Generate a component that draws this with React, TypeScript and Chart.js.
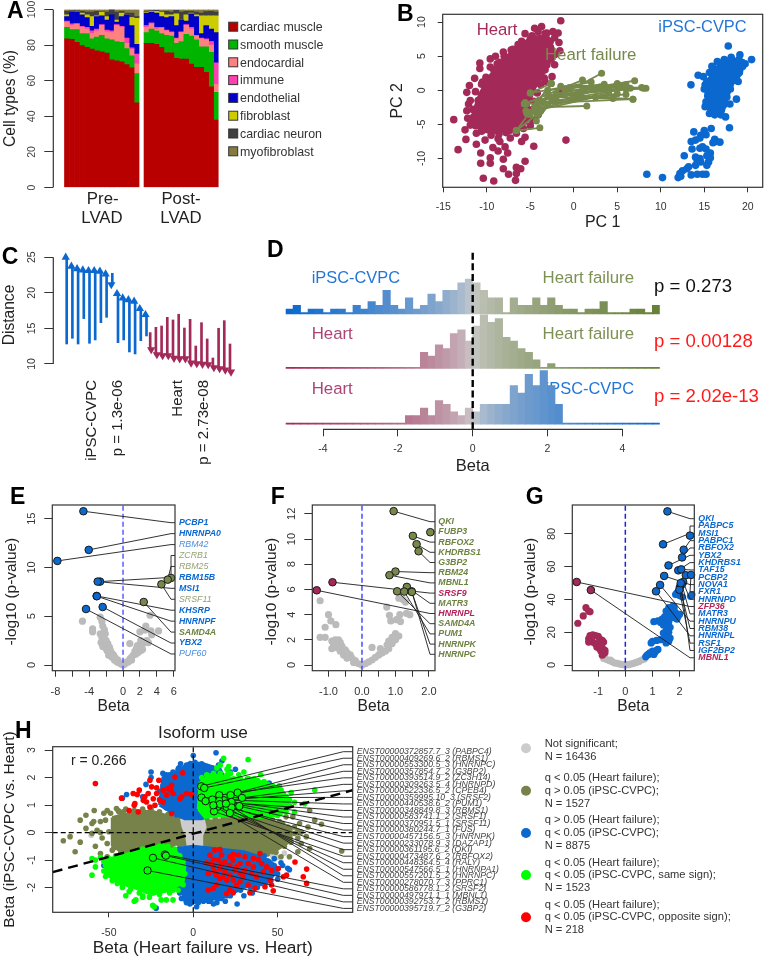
import { useEffect, useRef } from 'react';
import Chart from 'chart.js/auto';

type Pt = [number, number];

// ---------- colours
const HEART = '#a32a58';
const BLUE = '#0b68cf';
const OLIVE = '#76894a';
const HEART_T = '#ab4674';
const BLUE_T = '#2376d8';
const OLIVE_T = '#7d9154';
const FONT = '"Liberation Sans"';

// ---------- Panel A (upper edge of each stacked layer, %)
const cellTypes = ['cardiac muscle', 'smooth muscle', 'endocardial', 'immune', 'endothelial', 'fibroblast', 'cardiac neuron', 'myofibroblast'];
const cellColors = ['#b90000', '#00b400', '#ff8080', '#ff40b0', '#0000c8', '#cccc00', '#404040', '#857a40'];
const preTops = [
  [83.5, 83.3, 81.5, 79.7, 78.7, 77.8, 76.8, 76.2, 75.5, 71.7, 71.2, 70.6, 69, 67.2, 47.5],
  [90, 88.7, 88.7, 86.5, 86.5, 83.5, 84.5, 85.5, 83.5, 83, 82, 81.5, 78, 74, 64],
  [93, 91, 92, 90, 89, 86.5, 88, 91, 87.5, 87, 91, 90, 81, 77.5, 69.5],
  [93.5, 92, 92, 90.5, 90, 88, 89, 91.5, 88.5, 88, 91.5, 90.5, 84, 78.5, 75],
  [96, 98.5, 98.5, 97, 95.5, 90.5, 96, 96.5, 94, 97, 93, 96, 97, 91, 80.5],
  [97, 98.5, 98.7, 98, 97, 96, 96.5, 98.5, 96, 96, 94, 98, 97, 95.5, 95],
  [99, 99.3, 99.3, 99, 98.5, 98.5, 99, 99, 98.5, 99, 98.5, 99, 98, 98, 96],
  [100, 100, 100, 100, 100, 100, 100, 100, 100, 100, 100, 100, 100, 100, 100],
];
const postTops = [
  [81, 81, 80.4, 78.7, 75.7, 75.7, 72.5, 72.1, 72.1, 69.3, 67.5, 67.5, 64.7, 56.6, 37.9],
  [87, 89, 88, 86.5, 85.5, 85, 81, 82, 86, 85, 83, 79, 79, 76, 53.5],
  [90, 92, 89, 89.5, 88, 87, 83.5, 87, 91, 89, 85, 83.5, 83, 80, 58],
  [91, 92.5, 90, 90, 88.5, 87.5, 84, 87.5, 91.5, 90, 85.5, 84, 83.5, 82, 70],
  [98, 98.5, 98, 96, 95.5, 96, 91, 94, 93.5, 97.5, 96, 86.5, 91, 89, 87],
  [98.5, 99, 99, 98.5, 97, 97, 97.5, 94, 97, 98, 97, 96.5, 96.5, 96.5, 96.5],
  [99, 99.3, 99.5, 99, 99, 98.5, 99.5, 98.5, 99, 99, 98.5, 98, 98.8, 99, 98.5],
  [100, 100, 100, 100, 100, 100, 100, 100, 100, 100, 100, 100, 100, 100, 100],
];

// ---------- Panel B
const bHeartCore: Pt[] = [[-11.5, -3], [-10.8, -0.5], [-9.6, 2.2], [-8.3, 4.3], [-6.3, 6.6], [-4.7, 7.8], [-3, 8], [-2.3, 6], [-2.8, 4], [-3.7, 2], [-4.5, 0.3], [-5.2, -2], [-5.5, -4.8], [-7.2, -5.6], [-9, -6.2], [-10.6, -6], [-11.5, -4.8], [-11.5, -3]];
const bHeart: Pt[] = [[-1.5, 10.2], [-4.5, 9.1], [-3.7, 9.35], [-4.1, 8.6], [-3.1, 8.4], [-2.4, 8.6], [-1.8, 8.4], [-5.6, 8.3], [-1.6, 5.8], [-2.2, 3.75], [-3.1, 3.7], [-2.5, 2], [-5.6, 6.3], [-7, 6], [-8.1, 5.6], [-9, 5], [-10.8, 4], [-10.8, 3.2], [-9.6, 3.4], [-11.4, 1.75], [-12, 0.7], [-12.3, -0.3], [-12.3, -3], [-12.2, -4.1], [-13.8, -4.3], [-12.5, -5.8], [-11.9, -5.1], [-12.4, -7.2], [-13.3, -8.7], [-11.2, -6.3], [-11.2, -7.9], [-10.2, -7.3], [-10.7, -9.2], [-10.7, -10.7], [-9.6, -9.9], [-9.6, -10.7], [-9.3, -8.4], [-8.7, -7.1], [-8.5, -7.5], [-7.9, -8.3], [-8.7, -8.9], [-7.6, -9.2], [-8.1, -10.1], [-8.1, -11.5], [-7.5, -12.3], [-6.6, -11.3], [-6.1, -11.5], [-5.6, -10.4], [-6.6, -12.2], [-6.7, -13.2], [-10.4, -12.9], [-9.2, -13.3], [-4.6, -8.2], [-5.6, -6.9], [-6, -7.5], [-7.3, -7], [-6.6, -6.3], [-0.9, -7.3], [-6.2, -4.6], [-4.7, -4.4], [-4.1, -3.6], [-5.4, -2.8], [-1.4, -0.4], [-3.3, 1.3], [-4.3, 2.5], [-3.9, 2.5], [-4.3, 4.8], [-11.2, -3.2], [-11.6, -2.8], [-11.5, -3.9], [-9.6, 4.6], [-8.5, 4.1], [-2.7, 6.3], [-2.2, 7.7], [-2.7, 7.2], [-5, 7.5], [-6.4, 6.7], [-7.7, 4.8], [-3.1, 4.8], [-3.1, 4.4], [-10.5, 1.2], [-11, -1.5], [-9.8, -5.8], [-7.8, -6.2], [-5.8, -5.6], [-11.9, -1.5], [-11.3, -0.2], [-10.6, 0.9], [-10.1, 1.9], [-9.2, 3], [-8.8, 3.9], [-8, 5], [-7.2, 5.9], [-6, 7.2], [-4.8, 8], [-3.3, 8.3], [-1.7, 7], [-2.2, 5.2], [-2.6, 4.6], [-3.3, 3], [-3.4, 1.8], [-3.8, 0.8], [-4.2, -0.4], [-4.6, -1.6], [-4.7, -2.8], [-5.2, -4], [-5, -5.2], [-6.4, -5.4], [-7.4, -5.9], [-8.6, -6.4], [-9.5, -6.6], [-10.6, -6], [-11.3, -5.2], [-11.8, -4.4], [-12.1, -2]];
const bBlueCore: Pt[] = [[15.84, 2.23], [16.8, 3.89], [18.33, 4.6], [19.48, 4.37], [19.29, 2.47], [18.33, 1.04], [17.57, -1.33], [17.18, -3.2], [15.84, -3.23], [15.27, -1.33], [15.08, 1.04], [15.84, 2.23]];
const bBlue: Pt[] = [[17.76, 6.5], [20.44, 4.5], [19.1, 5.2], [18.1, 4.84], [15.88, 3.5], [14.3, 2.2], [14.9, 2], [13.47, 0.8], [15.1, 0.8], [18.7, -1.3], [17.95, -2], [15.1, -2.4], [17.45, -3.9], [17.9, -5.5], [16.5, 4.2], [17.3, 4.5], [19.7, 3.9], [18.9, 1.3], [18.6, 1.8], [16.9, -3.6], [15.6, -3.4], [16.2, -3.6], [15.3, 1.3], [15.6, 2.6], [16.1, 3.2], [17, 4], [18, 4.4], [19, 4.5], [19.4, 3.5], [19, 2.6], [18.4, 1.5], [18, 0.2], [17.6, -1], [17.2, -2.2], [15.4, -0.8], [15.2, -1.7], [15.7, -2.6], [15, 0.2], [13.8, -6.1], [15, -5.9], [15.8, -5.6], [14.6, -6.6], [14, -7.3], [13.5, -7.5], [14.5, -7], [15.2, -6.5], [16.2, -7.2], [16.4, -7.5], [16.8, -7.6], [16, -7.7], [13.6, -8.6], [14.8, -8.3], [15.2, -8.6], [14.5, -8.5], [15.7, -9.2], [15.3, -9.6], [15.7, -9.9], [12.7, -9.6], [14, -9.8], [14.5, -10], [14.6, -10.5], [14.2, -10.3], [15.5, -10.5], [15.3, -11], [14, -11], [13.2, -11.2], [13, -11.5], [12.5, -11.8], [12.2, -12.2], [12, -12.8], [12.3, -12.6], [13.5, -12.4], [14.2, -12.3], [14.8, -12.3], [15.2, -12.3], [8.4, -12.3], [10.2, -12.8]];
const bFailureLinks: [number, number, number, number][] = [[-6.6, -5.9, -2.6, 1], [-6.6, -5.9, -3.9, -5.5], [-6.6, -5.9, -4.2, -3.5], [-5.2, -3.5, -2.6, 1], [-5.4, -3.4, 3.2, 2.5], [-5.7, -2, 1, 1.5], [-5, -0.4, 2, 1.2], [-5, -0.4, -2.6, 1], [-3.5, -1.8, -2.6, 1], [-5.5, -2, 6.8, -1.3], [-4.5, -3, 2.5, -1], [-3, -2, 5, -0.5], [-2, -0.5, 7, 1.4], [-1.5, 0.6, 5.5, 0.7], [-1, -0.5, 6.5, 0.3], [-4, -1.5, 4, 0.2], [-3, -0.8, 8, 0.3], [-4.5, -2.5, 1.5, -2.3], [-1, 0, 8.3, 0.3], [0, -1, 5, 1], [-5.5, -3, 4, -0.4], [-2, -1.5, 6, -0.6], [-3, 0, 3.5, 0.9], [0.5, -0.8, 6.8, -1.3], [1, 0, 6, 0.8], [-4.3, -4.5, -2.5, -1.5], [-5, -3.5, -4, -1.5], [-3.8, -3, 2, 0.4], [-2.5, -1, 4.5, -1.2], [-4.2, -2, 6, 0.2], [-0.5, 0.4, 7.8, 0.4], [-5.6, -1.8, 3, 0.5]];

// ---------- Panel C
const cBlueTip = [25.66, 24.39, 24.06, 23.88, 23.78, 23.78, 23.69, 23.31, 20.5, 20.55, 19.94, 19.7, 19.47, 18.44, 17.6];
const cBlueTail = [12.81, 13.61, 12.81, 16.38, 12.91, 13.38, 15.81, 16.56, 22.75, 13, 13.38, 11.69, 11.41, 13.28, 13.94];
const cHeartTip = [11.36, 10.66, 10.52, 10.52, 10.14, 10.09, 10.09, 9.48, 9.39, 9.3, 9.25, 8.83, 8.69, 8.5, 8.22];
const cHeartTail = [14.41, 15.16, 15.34, 16.56, 16.19, 16.99, 15.06, 16.28, 12.53, 15.81, 13.52, 10.84, 15.02, 16.09, 12.81];

// ---------- Panel D (counts per 0.2-wide bin, from -5 to 5)
const dCountsTop = [1, 2, 0, 1, 1, 0, 1, 1, 0, 2, 1, 3, 2, 6, 2, 1, 4, 1, 2, 5, 3, 6, 6, 8, 9, 8, 6, 4, 4, 0, 4, 2, 2, 4, 2, 4, 2, 1, 1, 0, 1, 1, 3, 0, 0, 0, 1, 1, 0, 2];
const dCountsMid = [0, 0, 0, 0, 0, 0, 0, 0, 0, 0, 0, 0, 0, 0, 0, 0, 0, 0, 4, 3, 6, 5, 9, 10, 7, 11, 14, 12, 13, 8, 7, 5, 4, 2, 0, 1, 0, 0, 0, 0, 0, 0, 0, 0, 0, 0, 0, 0, 0, 0];
const dCountsLow = [0, 0, 0, 0, 0, 0, 0, 0, 0, 0, 0, 0, 0, 0, 0, 0, 2, 2, 4, 2, 6, 5, 3, 2, 4, 3, 5, 5, 5, 5, 10, 8, 13, 10, 14, 10, 5, 0, 0, 0, 0, 0, 0, 0, 0, 0, 0, 0, 0, 0];

// ---------- Panel E
const eGenes = ['PCBP1', 'HNRNPA0', 'RBM42', 'ZCRB1', 'RBM25', 'RBM15B', 'MSI1', 'SRSF11', 'KHSRP', 'HNRNPF', 'SAMD4A', 'YBX2', 'PUF60'];
const eBeta = [-4.69, -4.06, -7.77, 5.68, 5.29, -2.72, -3, 4.54, -3.12, -3.1, 2.45, -2.41, -4.38];
const eLogP = [15.76, 11.8, 10.67, 8.92, 8.75, 8.55, 8.55, 8.27, 7.08, 7.05, 6.46, 5.95, 5.74];
const eGroup = ['blue', 'blue', 'blueLight', 'oliveLight', 'oliveLight', 'blue', 'blue', 'oliveLight', 'blue', 'blue', 'olive', 'blue', 'blueLight'];
const eGray: Pt[] = [[-4.8, 4.5], [-3.6, 3.7], [-3.6, 3.4], [-2.7, 4.9], [-2.5, 4.5], [-2.4, 4], [-2.2, 3.6], [-2.7, 3.2], [-2.1, 3.2], [-2.5, 2.8], [-2.2, 2.6], [-2.6, 2.3], [-2, 2.5], [-1.8, 2.2], [-2.4, 1.9], [-2.1, 1.8], [-1.6, 1.8], [-1.9, 1.5], [-1.5, 1.5], [-1.6, 1.2], [-1.3, 1.2], [-1.7, 1], [-1.1, 1], [-1.3, 0.8], [-0.9, 0.7], [-1, 0.5], [-0.6, 0.5], [-0.7, 0.3], [-0.4, 0.2], [-0.2, 0.1], [0, 0], [0.2, 0.1], [0.4, 0.3], [0.6, 0.3], [0.8, 0.6], [1, 0.8], [1.2, 1], [1, 0.5], [1.5, 1.1], [1.4, 1.4], [1.8, 1.3], [1.6, 1.7], [2.1, 1.5], [2, 1.9], [2.3, 1.6], [1.7, 2], [2.4, 2.2], [0.8, 2.2], [2.1, 2.5], [2.8, 2.5], [2, 3.4], [2.6, 3.6], [3.3, 3.5], [4.2, 3.5], [3.4, 3.1], [2.7, 4], [3.2, 5.1], [3, 2.3]];

// ---------- Panel F
const fGenes = ['QKI', 'FUBP3', 'RBFOX2', 'KHDRBS1', 'G3BP2', 'RBM24', 'MBNL1', 'SRSF9', 'MATR3', 'HNRNPL', 'SAMD4A', 'PUM1', 'HNRNPK', 'HNRNPC'];
const fBeta = [0.945, 2.04, 1.52, 1.63, 1.69, 1, 0.82, -0.88, 1.34, -1.35, 1.05, 1.26, 1.48, 1.49];
const fLogP = [12.21, 10.54, 10.25, 9.59, 9.03, 7.42, 7.13, 6.57, 6.2, 5.93, 5.85, 5.83, 5.85, 5.8];
const fGroup = ['olive', 'olive', 'olive', 'olive', 'olive', 'olive', 'olive', 'heart', 'olive', 'heart', 'olive', 'olive', 'olive', 'olive'];
const fGray: Pt[] = [[-1.25, 5.1], [-1, 4], [-0.93, 3.5], [-0.78, 3.2], [-1.1, 3], [-1.25, 2.2], [-1.1, 2.2], [-0.9, 1.9], [-0.8, 2], [-0.7, 2], [-0.65, 1.8], [-0.85, 1.6], [-0.9, 1.3], [-0.75, 1.4], [-0.6, 1.5], [-0.5, 1.2], [-0.65, 1.1], [-0.45, 1], [-0.55, 0.8], [-0.35, 0.8], [-0.3, 0.55], [-0.45, 0.55], [-0.2, 0.35], [-0.25, 0.2], [-0.1, 0.1], [0, 0], [0.1, 0.1], [0.2, 0.25], [0.3, 0.4], [0.4, 0.6], [0.5, 0.8], [0.3, 1.4], [0.6, 0.95], [0.7, 1.1], [0.55, 1.3], [0.8, 1.3], [0.75, 1.6], [0.9, 1.7], [0.8, 1.9], [1, 2], [0.9, 2.2], [1.1, 2.3], [1, 2.5], [0.74, 4.6], [0.82, 3.95], [0.86, 3.5], [1.03, 3.6], [1.13, 4], [1.33, 4.1], [1.43, 4], [1.1, 5.3], [1.23, 5.2], [1.15, 3.45], [1.3, 5]];

// ---------- Panel G
const gGenes = ['QKI', 'PABPC5', 'MSI1', 'PABPC1', 'RBFOX2', 'YBX2', 'KHDRBS1', 'TAF15', 'PCBP2', 'NOVA1', 'FXR1', 'HNRNPD', 'ZFP36', 'MATR3', 'HNRNPU', 'RBM38', 'HNRNPL', 'RSF1', 'IGF2BP2', 'MBNL1'];
const gBeta = [1.55, 2.38, 1.39, 2.15, 2.09, 1.59, 1.95, 2.06, 2.23, 1.43, 2.42, 2.13, -1.79, 2.08, 1.28, 2.01, 1.13, 1.99, 2.04, -1.27];
const gLogP = [93.8, 79, 73.7, 70.4, 65.7, 60.8, 57.8, 58.4, 54.8, 54.4, 55, 50.7, 50.7, 49.3, 48.9, 47.6, 45, 46, 50, 45.8];
const gGroup = ['blue', 'blue', 'blue', 'blue', 'blue', 'blue', 'blue', 'blue', 'blue', 'blue', 'blue', 'blue', 'heart', 'blue', 'blue', 'blue', 'blue', 'blue', 'blue', 'heart'];
const gBlue: Pt[] = [[1.9, 44], [2, 42.5], [1.85, 43], [2.4, 42], [2.45, 43], [2.1, 41.5], [1.75, 36], [1.8, 35], [1.6, 35], [1.7, 33], [1.85, 32], [1.5, 33], [1.55, 31], [1.65, 31], [1.95, 30], [1.75, 29], [1.45, 29.5], [1.55, 28], [1.35, 28], [1.2, 27], [1.05, 26.5], [1.3, 26], [1.5, 26], [1.6, 26.5], [1.9, 28], [2, 31], [1.4, 24.5], [1.55, 24], [1.65, 23], [1.5, 21], [1.6, 20], [1.4, 19.5], [1.55, 18], [1.65, 16.5], [1.45, 16], [1.3, 15.5], [1.15, 15], [1, 14.5], [0.95, 13.5], [1.6, 14.5], [1.5, 13.5], [1.15, 9], [1.1, 8], [1, 8.5], [0.95, 7], [1.05, 6.5], [0.85, 6.5], [0.9, 7.5], [0.8, 6], [0.75, 5], [1.2, 9.5]];
const gGray: Pt[] = [[-0.8, 4], [-0.7, 3.5], [-0.6, 2.7], [-0.5, 2.2], [-0.55, 3], [-0.4, 1.3], [-0.3, 1], [-0.2, 0.6], [-0.1, 0.3], [0, 0], [0.1, 0.2], [0.2, 0.6], [0.3, 1], [0.4, 1.6], [0.5, 2.2], [0.6, 3], [0.7, 3.7]];
const gHeart: Pt[] = [[-1.45, 35], [-1.35, 33], [-1.3, 32.5], [-1.55, 30], [-1.75, 25.5], [-1.3, 18], [-1.2, 18.5], [-1.1, 18], [-1, 17.5], [-0.95, 16], [-1.35, 16], [-1.3, 15], [-0.85, 15], [-1.2, 14], [-1.1, 13], [-1, 13], [-0.8, 14], [-1.35, 14], [-0.9, 12], [-1.05, 11], [-0.85, 10.5], [-0.95, 10], [-0.75, 9], [-0.9, 8.5], [-0.8, 7], [-0.85, 6], [-0.75, 7.5]];

// ---------- Panel H
const hOliveCore: Pt[] = [[-48, 0.55], [-36, 0.72], [-25, 0.78], [-12, 0.55], [0, 0.45], [12, 0.42], [24, 0.55], [36, 0.65], [48, 0.4], [58, 0.1], [58, -0.3], [48, -0.68], [38, -0.78], [24, -0.66], [12, -0.52], [0, -0.46], [-10, -0.42], [-22, -0.6], [-32, -0.88], [-42, -0.75], [-48, -0.45], [-48, 0.55]];
const hOlive: Pt[] = [[-77, -0.3], [-73, -0.15], [-67, -0.35], [-70, -0.7], [-63.6, 0.15], [-60, -0.03], [-67, 0.45], [-63.6, 0.63], [-58.7, 0.8], [-60, 0.33], [-57, 0.08], [-53, 0.7], [-51, 0.8], [-45.5, 0.87], [-55, 0.4], [-52, 0.45], [-49, 0.7], [-54, -0.2], [-51, -0.4], [-58, -0.5], [-55, -0.76], [-51, -0.88], [-48, -0.64], [-47, 0], [-50, 0.03], [-55, 0], [-59, 0.4], [-44.5, 0.8], [-41.5, 0.75], [88, -0.67], [76, 0.3], [72, 0.45], [69, 0.8], [68, 0.2], [63, 0.33], [59, 0.57], [67, -0.15], [64, -0.4], [69, -0.58], [62, -0.7], [57, -0.88], [57, 0.15], [60, -0.03], [53, 0.33], [55, 0.57], [52, -0.88], [47, -0.7], [64, 0.02], [-30, -0.95], [-36, -0.95], [32, -0.8], [-30, 0.8], [44, 0.6], [-44, 0.75], [-40, 0.85], [-35, 0.8], [-30, 0.85], [-25, 0.85], [-20, 0.75], [-15, 0.65], [-10, 0.6], [-6, 0.5], [8, 0.5], [13, 0.5], [18, 0.55], [23, 0.6], [28, 0.68], [33, 0.72], [38, 0.7], [43, 0.55], [47, 0.45], [51, 0.4], [56, 0.2], [60, 0.2], [62, 0.05], [-47, -0.55], [-43, -0.75], [-39, -0.85], [-35, -0.95], [-26, -0.85], [-22, -0.65], [-18, -0.55], [-13, -0.5], [-8, -0.45], [8, -0.5], [14, -0.55], [19, -0.6], [24, -0.7], [29, -0.75], [34, -0.8], [39, -0.82], [44, -0.78], [49, -0.72], [54, -0.5], [58, -0.35], [62, -0.2]];
const hGray: Pt[] = [[-60.5, -0.1], [-42, 0.65], [-46, -0.5], [-8, 0.4], [-5, 0.55], [50, -0.9], [47, -0.85], [40, -0.95], [62, -0.35], [54, -0.75], [-30, -0.3], [-22, 0.2], [-38, 0.1], [-15, -0.1], [30, 0.2], [35, -0.2], [25, -0.3]];
const hGrayCore: Pt[] = [[-7, 0.5], [-2, 0.5], [6, 0.48], [7, 0.2], [5, -0.1], [5, -0.5], [-3, -0.5], [-4, -0.1], [-6, 0.2], [-7, 0.5]];
const hBlueUpper: Pt[] = [[-20, 1], [-18, 2], [-10, 2.2], [-2, 2.55], [6, 2.5], [16, 2.3], [20, 1.8], [15, 0.7], [5, 0.5], [-5, 0.5], [-12, 0.7], [-20, 1]];
const hBlueLower: Pt[] = [[-12, -0.6], [0, -0.5], [15, -0.6], [30, -0.7], [45, -1], [50, -1.3], [45, -1.8], [30, -2], [20, -2.3], [10, -2.45], [0, -2.55], [-5, -2.5], [-8, -1.8], [-10, -1], [-12, -0.6]];
const hBlue: Pt[] = [[0, 2.8], [13.5, 2.9], [17, 2.6], [15, 2.45], [-7.5, 2.5], [-8.5, 2.35], [-25, 2.2], [-25, 2], [-18, 2.15], [-16, 2.1], [-14, 2.1], [-5, 2.3], [-20, 1.5], [-30, 1.3], [-39.5, 1.38], [-42, 1.25], [-28, 1.75], [22, 2.2], [25, 2.3], [35, 1.9], [45, 1.8], [46, 1.7], [-53, -1.2], [-22, -2.75], [9, -2.5], [14, -2.55], [17, -2.4], [19, -2.5], [26, -2.6], [30, -2.3], [12, -2.6], [50, -1.7], [56, -1.3], [57, -1.35], [48, -1.2], [38, -2], [43, -1.8], [35, -2.2], [20, -2.3], [-8, -2.2], [-11, -1.9], [-2, -2.6], [2, -2.7], [-12, -1.4], [-13, -1], [52, -1.1], [-15, -0.7], [-17, 1.2], [-18, 1.7], [-15, 2.05], [-12, 2.2], [-9, 2.3], [-4, 2.45], [1, 2.55], [5, 2.5], [8, 2.4], [11, 2.35], [-20, 1.2], [-16, 0.9], [-13, 0.8], [-10, 0.65], [-12, -0.8], [-11, -1.2], [-10, -1.6], [-9, -2], [-7, -2.4], [-4, -2.55], [-1, -2.55], [3, -2.55], [6, -2.5], [10, -2.5], [15, -2.4], [22, -2.3], [28, -2.1], [34, -2], [40, -1.85], [46, -1.75], [50, -1.5], [53, -1.2], [48, -0.95], [42, -0.85]];
const hGreenUpper: Pt[] = [[3, 0.85], [4, 1.8], [10, 2.1], [18, 2.05], [28, 1.9], [38, 1.9], [47, 1.7], [54, 1.45], [56, 1], [52, 0.65], [40, 0.55], [28, 0.6], [15, 0.6], [7, 0.55], [3, 0.85]];
const hGreenLower: Pt[] = [[-52, -1], [-40, -0.8], [-28, -0.6], [-18, -0.45], [-10, -0.7], [-5, -1.2], [-6, -1.8], [-14, -2.1], [-25, -2.25], [-35, -2], [-45, -1.8], [-52, -1.5], [-52, -1]];
const hGreen: Pt[] = [[32.5, 2.65], [18, 2.7], [21, 2.4], [20, 2.3], [27, 2.1], [30, 2.2], [14, 2.35], [16, 2.45], [22, 2.15], [40, 2.1], [36, 1.95], [37, 1.8], [44, 1.75], [45, 1.55], [50, 1.6], [51, 1.7], [58, 1.45], [60, 1.1], [66, 1.05], [72, 1.55], [52, 1.2], [57, 1.2], [60, 0.75], [35, 1.85], [33, 1.95], [48, 1.45], [55, 1], [10, 2], [6, 1.9], [4, 1.6], [5, 2], [8, 2.1], [12, 2.15], [16, 2.15], [20, 2.1], [24, 1.95], [28, 1.95], [32, 1.95], [38, 1.9], [42, 1.85], [47, 1.7], [52, 1.55], [55, 1.3], [57, 1], [55, 0.75], [50, 0.62], [45, 0.6], [-60, -0.95], [-58, -1], [-58, -1.25], [-60, -1.55], [-52, -1.2], [-52, -1.6], [-50, -1.35], [-47, -1.65], [-44, -1.6], [-45, -1.85], [-42, -2], [-40, -1.3], [-38, -1.9], [-38, -2.15], [-34, -1.8], [-40, -2.3], [-35, -2.5], [-34, -2.45], [-30, -2.35], [-30, -2.3], [-24, -2.2], [-20, -2.25], [-19, -2.45], [-16, -2.45], [-12, -2.45], [-24, -2.65], [-23, -2.7], [-12, -2.1], [-8, -1.85], [-7, -1.7], [-8, -1.4], [-6, -1.3], [-10, -1.85], [-55, -0.9], [-53, -1.05], [-50, -0.95], [-46, -0.85], [-42, -0.8], [-36, -0.72], [-30, -0.6], [-25, -0.55], [-20, -0.5], [-15, -0.5], [-11, -0.6], [-8, -0.85], [-6, -1.05], [-5, -1.5], [-6, -1.9], [-9, -2.1], [-14, -2.2], [-26, -2.35], [-32, -2.2], [-37, -2.05], [-42, -1.9], [-48, -1.75], [-53, -1.4]];
const hRed: Pt[] = [[-58, 1.78], [-42.5, 1.25], [-38, 0.8], [-35.6, 1.42], [-32, 1.54], [-33.2, 1.38], [-34.6, 1.05], [-35, 0.99], [-32.6, 0.75], [-28.7, 1.3], [-26.7, 1.42], [-25.7, 1.9], [-20.4, 1.9], [-24.7, 1.66], [-21.7, 1.42], [-17.8, 1.54], [-14.8, 1.6], [-12.8, 1.72], [-10.9, 2.02], [-6.3, 2.17], [-13.4, 1.54], [-15.8, 1.36], [-19.8, 1.17], [-23.7, 1.23], [-27.7, 1.11], [-22.7, 0.99], [-17.8, 1.11], [-12.8, 0.69], [-7.9, 1.23], [-6.9, 1.3], [-1, 1.38], [-4, 1.42], [-11.9, 1.42], [-29.6, 1.17], [-25.7, 0.93], [-21.7, 1.63], [12.8, -0.64], [15.8, -0.62], [16.8, -0.82], [9.9, -0.82], [7.9, -1.1], [11.9, -0.98], [14.8, -1], [18.8, -1.07], [23.7, -0.79], [26.7, -0.82], [30.6, -0.88], [35.6, -0.94], [39.5, -0.76], [38.5, -0.98], [32.6, -1.13], [27.7, -1.13], [23.7, -1], [21.7, -1.19], [15.8, -1.31], [11.9, -1.25], [8.9, -1.49], [13.8, -1.55], [18.8, -1.43], [24.7, -1.37], [30.6, -1.37], [35.6, -1.25], [40.5, -1.13], [43.5, -1.25], [46.4, -1.37], [50.4, -1.31], [55.3, -1.55], [60.3, -1.07], [67.2, -1.33], [65.2, -1.61], [67.2, -1.85], [53.4, -1.61], [45.5, -1.73], [46.4, -1.91], [47.4, -2.12], [42.5, -1.97], [36.6, -2.03], [33.6, -2.19], [32.6, -1.91], [27.7, -1.79], [23.7, -1.73], [21.7, -2.09], [19.8, -2.22], [23.7, -2.19], [25.7, -1.91], [19.8, -1.73], [15.8, -1.67], [11.9, -2.03], [8.9, -2.09], [13.8, -1.91], [16.8, -1.13], [21.7, -0.88], [25.7, -1.25], [29.6, -1.61], [37.5, -1.61], [34.6, -1.49], [41.5, -1.43], [12.8, -1.43], [10.9, -1.13], [17.8, -1.61], [27.7, -1.49], [21.7, -1.55]];
const hIsoforms = ['ENST00000372857.7_3 (PABPC4)', 'ENST00000409269.6_2 (RBMS1)', 'ENST00000553300.5_3 (HNRNPC)', 'ENST00000357854.7_2 (G3BP2)', 'ENST00000393514.9_2 (ZC3H14)', 'ENST00000309263.5_4 (HNRNPD)', 'ENST00000522336.5_2 (CPEB4)', 'ENST00000359995.10_3 (SRSF2)', 'ENST00000440538.6_2 (PUM1)', 'ENST00000348849.8_3 (RBMS1)', 'ENST00000583741.1_2 (SRSF1)', 'ENST00000370951.5_1 (SRSF11)', 'ENST00000380244.7_1 (FUS)', 'ENST00000457156.5_3 (HNRNPK)', 'ENST00000233078.9_3 (DAZAP1)', 'ENST00000361195.6_2 (QKI)', 'ENST00000473487.6_2 (RBFOX2)', 'ENST00000448364.5_4 (RALY)', 'ENST00000547566.5_1 (HNRNPA1)', 'ENST00000557201.5_2 (HNRNPC)', 'ENST00000278070.7_3 (PPRC1)', 'ENST00000586778.1_2 (SRSF2)', 'ENST00000497971.1_1 (MBNL1)', 'ENST00000392753.7_2 (RBMS1)', 'ENST00000395719.7_2 (G3BP2)'];
const hIsoBeta = [4.7, 6.5, 26.3, 22.1, 15.4, 28.9, 18.2, 4.9, 11.3, 7.3, 22.7, 15.4, 27.3, 19.8, 22.7, 14.2, 12.3, 21.7, 15.8, 19.4, 11.9, -16.8, -16.2, -23.9, -27.1];
const hIsoCvpc = [1.68, 1.62, 1.45, 1.36, 1.36, 1.26, 1.17, 1.27, 1.2, 1.14, 1.11, 1.15, 0.96, 0.93, 0.91, 0.93, 0.77, 0.71, 1.03, 1.05, 0.99, -0.8, -0.84, -0.92, -1.38];
const hTrend: Pt[] = [[-83.3, -1.44], [94.5, 1.54]];
const hLegend = [
  { color: '#cccccc', lines: ['Not significant;', 'N = 16436'] },
  { color: '#76824a', lines: ['q < 0.05 (Heart failure);', 'q > 0.05 (iPSC-CVPC);', 'N = 1527'] },
  { color: '#0b68cf', lines: ['q > 0.05 (Heart failure);', 'q < 0.05 (iPSC-CVPC);', 'N = 8875'] },
  { color: '#00ff00', lines: ['q < 0.05 (Heart failure);', 'q < 0.05 (iPSC-CVPC, same sign);', 'N = 1523'] },
  { color: '#ff0000', lines: ['q < 0.05 (Heart failure);', 'q < 0.05 (iPSC-CVPC, opposite sign);', 'N = 218'] },
];

// ---------- helpers
type Note = { text?: string; x: number; y: number; color?: string; font?: string; align?: CanvasTextAlign; rotate?: number; under?: boolean; dot?: number; swatch?: number };
type Leaders = { names: string[]; xs: number[]; ys: number[]; colors: string[]; fonts: string[]; elbow: number; right: number; rowStart: number; rowStep: number; labelX: number; index: number };
type Art = { notes?: Note[]; box?: boolean; spans?: string[]; leaders?: Leaders };

const px = (size: number, weight = '') => `${weight} ${size}px ${FONT}`.trim();

function drawNote(ctx: CanvasRenderingContext2D, n: Note) {
  ctx.save();
  ctx.translate(n.x, n.y);
  if (n.rotate) ctx.rotate((n.rotate * Math.PI) / 180);
  if (n.dot) {
    ctx.fillStyle = n.color || '#000';
    ctx.beginPath();
    ctx.arc(0, 0, n.dot, 0, Math.PI * 2);
    ctx.fill();
  } else if (n.swatch) {
    ctx.fillStyle = n.color || '#000';
    ctx.strokeStyle = '#333';
    ctx.fillRect(-n.swatch / 2, -n.swatch / 2, n.swatch, n.swatch);
    ctx.strokeRect(-n.swatch / 2, -n.swatch / 2, n.swatch, n.swatch);
  } else if (n.text) {
    ctx.font = n.font || px(12);
    ctx.fillStyle = n.color || '#222';
    ctx.textAlign = n.align || 'left';
    ctx.textBaseline = 'alphabetic';
    ctx.fillText(n.text, 0, 0);
  }
  ctx.restore();
}

function artPlugin(art: Art) {
  return {
    id: 'art',
    beforeDatasetsDraw(chart: any) {
      (art.notes || []).filter((n) => n.under).forEach((n) => drawNote(chart.ctx, n));
    },
    beforeDatasetDraw(chart: any, args: any) {
      const l = art.leaders;
      if (!l || args.index !== l.index) return;
      const ctx = chart.ctx;
      ctx.save();
      ctx.strokeStyle = '#1c1c1c';
      ctx.lineWidth = 0.9;
      l.names.forEach((_, i) => {
        const rowY = l.rowStart + i * l.rowStep;
        ctx.beginPath();
        ctx.moveTo(chart.scales.x.getPixelForValue(l.xs[i]), chart.scales.y.getPixelForValue(l.ys[i]));
        ctx.lineTo(l.elbow, rowY);
        ctx.lineTo(l.right, rowY);
        ctx.stroke();
      });
      ctx.restore();
    },
    afterDatasetsDraw(chart: any) {
      const ctx = chart.ctx;
      const a = chart.chartArea;
      ctx.save();
      ctx.strokeStyle = '#333';
      ctx.lineWidth = 1.2;
      if (art.box) ctx.strokeRect(a.left, a.top, a.right - a.left, a.bottom - a.top);
      (art.spans || []).forEach((id) => {
        const s = chart.scales[id];
        const first = s.getPixelForValue(s.ticks[0].value);
        const last = s.getPixelForValue(s.ticks[s.ticks.length - 1].value);
        ctx.beginPath();
        if (id === 'x') {
          ctx.moveTo(first, a.bottom);
          ctx.lineTo(last, a.bottom);
        } else {
          ctx.moveTo(a.left, first);
          ctx.lineTo(a.left, last);
        }
        ctx.stroke();
      });
      ctx.restore();
      (art.notes || []).filter((n) => !n.under).forEach((n) => drawNote(ctx, n));
      const l = art.leaders;
      if (l) {
        ctx.save();
        ctx.textBaseline = 'middle';
        ctx.textAlign = 'left';
        l.names.forEach((name, i) => {
          ctx.font = l.fonts[i];
          ctx.fillStyle = l.colors[i];
          ctx.fillText(name, l.labelX, l.rowStart + i * l.rowStep);
        });
        ctx.restore();
      }
    },
  };
}

type Box = { L: number; T: number; R: number; B: number; w?: number; h?: number };
const padding = (b: Box) => ({
  left: b.L - (b.w || 0),
  top: b.T,
  right: 765 - b.R,
  bottom: Math.max(0, 959 - b.B - (b.h || 0)),
});

function xAxis(b: Box, o: any) {
  const hide: number[] = o.hide || [];
  const fmt = o.fmt || ((v: number) => String(v));
  return {
    type: 'linear',
    position: 'bottom',
    min: o.min,
    max: o.max,
    offset: false,
    afterBuildTicks: (s: any) => { s.ticks = o.ticks.map((v: number) => ({ value: v })); },
    afterFit: (s: any) => { s.height = b.h; },
    ticks: { autoSkip: false, maxRotation: 0, color: '#333', padding: o.pad, font: { size: o.size || 10.5, family: FONT }, callback: (v: number) => (hide.includes(v) ? '' : fmt(v)) },
    grid: { display: true, offset: false, drawOnChartArea: false, drawTicks: true, tickLength: o.tick || 5, color: '#333', lineWidth: 1 },
    border: { display: false },
    title: o.title ? { display: true, text: o.title, color: '#222', padding: 0, font: { size: o.titleSize || 15.6, family: FONT } } : { display: false },
  };
}

function yAxis(b: Box, o: any) {
  return {
    type: 'linear',
    position: 'left',
    min: o.min,
    max: o.max,
    afterBuildTicks: (s: any) => { s.ticks = o.ticks.map((v: number) => ({ value: v })); },
    afterFit: (s: any) => { s.width = b.w; },
    ticks: { autoSkip: false, minRotation: 90, maxRotation: 90, crossAlign: 'center', color: o.color || '#333', padding: o.pad, font: { size: o.size || 10.5, family: FONT }, callback: (v: number) => String(v) },
    grid: { display: true, drawOnChartArea: false, drawTicks: true, tickLength: o.tick || 8, color: '#333', lineWidth: 1 },
    border: { display: false },
    title: o.title ? { display: true, text: o.title, color: '#222', padding: 0, font: { size: o.titleSize || 15.6, family: FONT } } : { display: false },
  };
}

const toXY = (pts: Pt[]) => pts.map(([x, y]) => ({ x, y }));
const dots = (pts: Pt[], color: string, r: number) => ({ type: 'scatter', data: toXY(pts), backgroundColor: color, borderWidth: 0, pointRadius: r, pointHoverRadius: r, clip: false });
const blob = (pts: Pt[], color: string) => ({ type: 'line', data: toXY(pts), borderColor: color, backgroundColor: color, borderWidth: 3, fill: 'shape', tension: 0, pointRadius: 0 });
const rule = (pts: Pt[], color: string, width: number, dash: number[]) => ({ type: 'line', data: toXY(pts), borderColor: color, borderWidth: width, borderDash: dash, fill: false, tension: 0, pointRadius: 0, clip: false });
// Later entries draw on top; stacked layers keep dataset order so the stack builds upward.
const layered = (ds: any[]) => ds.map((d, i) => ({ ...d, order: d.stack ? 0 : -i }));

function makeConfig(type: string, box: Box, datasets: any[], scales: any, art: Art) {
  return {
    type,
    data: { datasets: layered(datasets) },
    options: {
      responsive: false,
      animation: false,
      devicePixelRatio: 1,
      events: [],
      layout: { autoPadding: false, padding: padding(box) },
      plugins: { legend: { display: false }, tooltip: { enabled: false }, title: { display: false } },
      scales,
    },
    plugins: [artPlugin(art)],
  };
}

const letter = (text: string, x: number, y: number): Note => ({ text, x, y, color: '#000', font: px(23, 'bold') });

// ---------- panels
function panelA() {
  const box: Box = { L: 53.3, T: 9.5, R: 218.6, B: 187.5, w: 52, h: 0 };
  const groups = [{ tops: preTops, start: 0 }, { tops: postTops, start: 16 }];
  const datasets = cellTypes.map((_, k) => ({
    type: 'bar',
    label: cellTypes[k],
    backgroundColor: cellColors[k],
    borderWidth: 0,
    barPercentage: 1,
    categoryPercentage: 1,
    stack: 'cells',
    data: groups.flatMap((g) => g.tops[k].map((top, i) => ({ x: g.start + i, y: top - (k ? g.tops[k - 1][i] : 0) }))),
  }));
  const notes: Note[] = [letter('A', 7, 18)];
  cellTypes.forEach((name, k) => {
    const cy = 26.7 + k * 17.8;
    notes.push({ x: 233.2, y: cy, swatch: 9, color: cellColors[k] });
    notes.push({ text: name, x: 240, y: cy + 4.2, font: px(12.4), color: '#333' });
  });
  notes.push(
    { text: 'Pre-', x: 102.7, y: 204, font: px(16.8), align: 'center' },
    { text: 'LVAD', x: 102, y: 222.7, font: px(16.8), align: 'center' },
    { text: 'Post-', x: 181, y: 204, font: px(16.8), align: 'center' },
    { text: 'LVAD', x: 181, y: 222.7, font: px(16.8), align: 'center' },
  );
  return makeConfig('bar', box, datasets, {
    x: { type: 'linear', display: false, stacked: true, min: -2.75, max: 30.5, offset: false },
    y: { ...yAxis(box, { min: 0, max: 100, ticks: [0, 20, 40, 60, 80, 100], pad: 3, tick: 9, title: 'Cell types (%)', color: '#444' }), stacked: true },
  }, { notes, spans: ['y'] });
}

function panelB() {
  const box: Box = { L: 442.7, T: 9.3, R: 762.7, B: 187.3, w: 54.3, h: 45.3 };
  const links = bFailureLinks.map(([a, b, c, d]) => rule([[a, b], [c, d]], OLIVE, 1.8, []));
  const ends: Pt[] = bFailureLinks.flatMap(([a, b, c, d]) => [[a, b], [c, d]] as Pt[]);
  const datasets = [
    blob(bHeartCore, HEART),
    dots(bHeart, HEART, 3.8),
    blob(bBlueCore, BLUE),
    dots(bBlue, BLUE, 3.8),
    ...links,
    dots(ends, OLIVE, 3.5),
  ];
  return makeConfig('scatter', box, datasets, {
    x: xAxis(box, { min: -15.07, max: 21.72, ticks: [-15, -10, -5, 0, 5, 10, 15, 20], pad: 9, title: 'PC 1', titleSize: 16 }),
    y: yAxis(box, { min: -14.22, max: 11.14, ticks: [-10, -5, 0, 5, 10], pad: 8, tick: 5, title: 'PC 2', titleSize: 16 }),
  }, {
    box: true,
    notes: [
      letter('B', 397, 20.7),
      { text: 'Heart', x: 476.7, y: 35, color: HEART, font: px(16.7) },
      { text: 'iPSC-CVPC', x: 658.3, y: 32, color: BLUE_T, font: px(16.4) },
      { text: 'Heart failure', x: 545, y: 60, color: OLIVE, font: px(16.8) },
    ],
  });
}

function panelC() {
  const box: Box = { L: 53.3, T: 255, R: 240, B: 375, w: 53.2, h: 0 };
  const arrow = (tips: number[], tails: number[], start: number, color: string) => {
    const dir = tips.map((t, i) => (t > tails[i] ? 1 : -1));
    return [
      { type: 'bar', data: tips.map((t, i) => ({ x: start + i, y: [tails[i], t - dir[i] * 0.6] })), backgroundColor: color, borderWidth: 0, barThickness: 2, clip: false },
      { type: 'line', showLine: false, data: tips.map((t, i) => ({ x: start + i, y: t - dir[i] * 0.67 })), pointStyle: 'triangle', pointRotation: dir.map((d) => (d > 0 ? 0 : 180)), pointRadius: 4.8, backgroundColor: color, borderColor: color, borderWidth: 0, clip: false },
    ];
  };
  const datasets = [...arrow(cBlueTip, cBlueTail, 0, BLUE), ...arrow(cHeartTip, cHeartTail, 15, HEART)];
  return makeConfig('bar', box, datasets, {
    x: { type: 'linear', display: false, min: -2.175, max: 30.58, offset: false },
    y: yAxis(box, { min: 8.453, max: 25.32, ticks: [10, 15, 20, 25], pad: 6, tick: 9, title: 'Distance' }),
  }, {
    spans: ['y'],
    notes: [
      letter('C', 1.7, 264),
      { text: 'iPSC-CVPC', x: 96, y: 380, rotate: -90, align: 'right', font: px(15) },
      { text: 'p = 1.3e-06', x: 122, y: 380, rotate: -90, align: 'right', font: px(15) },
      { text: 'Heart', x: 182, y: 380, rotate: -90, align: 'right', font: px(15) },
      { text: 'p = 2.73e-08', x: 208, y: 380, rotate: -90, align: 'right', font: px(15) },
    ],
  });
}

const rgb = (h: string) => [1, 3, 5].map((i) => parseInt(h.slice(i, i + 2), 16));
function shade(left: string, right: string, x: number) {
  const t = Math.pow(Math.min(1, Math.abs(x) / 5), 0.6);
  const a = rgb(x < 0 ? left : right);
  const c = a.map((v) => Math.round(204 + (v - 204) * t));
  return `rgb(${c[0]},${c[1]},${c[2]})`;
}

function panelD() {
  const box: Box = { L: 285.6, T: 251.7, R: 659.8, B: 429.3, w: 0, h: 46.6 };
  const row = (counts: number[], base: number, left: string, right: string) => ({
    type: 'bar',
    data: counts.map((c, i) => ({ x: -4.9 + i * 0.2, y: [base - 0.3, base + c] })),
    backgroundColor: counts.map((_, i) => shade(left, right, -4.9 + i * 0.2)),
    borderWidth: 0,
    barPercentage: 1,
    categoryPercentage: 1,
    grouped: false,
  });
  const datasets = [
    row(dCountsTop, 29.49, '#0b68cf', '#668036'),
    row(dCountsMid, 14.89, '#a32a58', '#668036'),
    row(dCountsLow, 0, '#a32a58', '#0b68cf'),
    rule([[0, -1.684], [0, 45.8]], '#000', 2.4, [7, 3.6]),
  ];
  return makeConfig('bar', box, datasets, {
    x: xAxis(box, { min: -5, max: 5, ticks: [-4, -2, 0, 2, 4], pad: 6.7, tick: 7, title: 'Beta', titleSize: 16.5 }),
    y: { type: 'linear', display: false, min: -1.684, max: 45.8 },
  }, {
    spans: ['x'],
    notes: [
      letter('D', 267, 257),
      { text: 'iPSC-CVPC', x: 311.7, y: 283, color: BLUE_T, font: px(16.4) },
      { text: 'Heart failure', x: 634, y: 283, color: OLIVE_T, font: px(16.8), align: 'right' },
      { text: 'Heart', x: 311.7, y: 338.7, color: HEART_T, font: px(16.8) },
      { text: 'Heart failure', x: 634, y: 338.7, color: OLIVE_T, font: px(16.8), align: 'right' },
      { text: 'Heart', x: 311.7, y: 394, color: HEART_T, font: px(16.8) },
      { text: 'iPSC-CVPC', x: 634, y: 394, color: BLUE_T, font: px(16.4), align: 'right', under: true },
      { text: 'p = 0.273', x: 654, y: 292.3, color: '#111', font: px(18.6) },
      { text: 'p = 0.00128', x: 654, y: 346.7, color: '#ff1a1a', font: px(18.6) },
      { text: 'p = 2.02e-13', x: 654, y: 401.7, color: '#ff1a1a', font: px(18.6) },
    ],
  });
}

const groupFill: Record<string, string> = { blue: BLUE, blueLight: BLUE, olive: OLIVE, oliveLight: OLIVE, heart: HEART };
const groupText: Record<string, string> = { blue: BLUE, blueLight: '#4a8cdc', olive: '#6d8340', oliveLight: '#93a274', heart: '#b4245a' };

function volcano(o: any) {
  const box: Box = o.box;
  const faint = (g: string) => g.endsWith('Light');
  const sigIndex = o.layers.length + 1;
  const datasets = [
    ...o.layers,
    rule([[0, o.yMin], [0, o.yMax]], o.zeroColor, 1.5, [5, 3]),
    { type: 'scatter', data: o.xs.map((x: number, i: number) => ({ x, y: o.ys[i] })), backgroundColor: o.groups.map((g: string) => groupFill[g]), borderColor: '#1a1a1a', borderWidth: 1, pointRadius: 3.8, clip: false },
  ];
  return makeConfig('scatter', box, datasets, {
    x: xAxis(box, { min: o.xMin, max: o.xMax, ticks: o.xTicks, hide: o.xHide, fmt: o.xFmt, pad: 8.5, tick: 6, size: 11, title: 'Beta' }),
    y: yAxis(box, { min: o.yMin, max: o.yMax, ticks: o.yTicks, pad: 5.9, tick: 8, size: 11 }),
  }, {
    box: true,
    notes: [o.letter, { text: '-log10 (p-value)', x: o.titleX, y: 591.7, rotate: -90, align: 'center', font: px(15.4) }],
    leaders: {
      names: o.names, xs: o.xs, ys: o.ys,
      colors: o.groups.map((g: string) => groupText[g]),
      fonts: o.groups.map((g: string) => (faint(g) ? `italic ${px(8.8)}` : `italic ${px(8.8, 'bold')}`)),
      elbow: o.elbow, right: box.R, rowStart: o.rowStart, rowStep: o.rowStep, labelX: o.labelX, index: sigIndex,
    },
  });
}

function panelE() {
  return volcano({
    box: { L: 52.3, T: 505, R: 175, B: 670.7, w: 51.5, h: 45.7 },
    xMin: -8.37, xMax: 6.15, yMin: -0.58, yMax: 16.4,
    xTicks: [-8, -6, -4, -2, 0, 2, 4, 6], xHide: [-6, -2], yTicks: [0, 5, 10, 15],
    layers: [dots(eGray, '#bbbbbb', 3.6)], zeroColor: '#5a5aff',
    names: eGenes, xs: eBeta, ys: eLogP, groups: eGroup,
    elbow: 171, rowStart: 522.7, rowStep: 10.94, labelX: 179, titleX: 15.5,
    letter: letter('E', 10, 504),
  });
}

function panelF() {
  return volcano({
    box: { L: 312.3, T: 505, R: 435, B: 670.7, w: 51.5, h: 45.7 },
    xMin: -1.483, xMax: 2.18, yMin: -0.45, yMax: 12.7,
    xTicks: [-1, -0.5, 0, 0.5, 1, 1.5, 2], xHide: [-0.5, 0.5, 1.5], xFmt: (v: number) => v.toFixed(1), yTicks: [0, 2, 4, 6, 8, 10, 12],
    layers: [dots(fGray, '#bbbbbb', 3.6)], zeroColor: '#4a4aff',
    names: fGenes, xs: fBeta, ys: fLogP, groups: fGroup,
    elbow: 430, rowStart: 521.7, rowStep: 10.2, labelX: 438.3, titleX: 275.5,
    letter: letter('F', 270.7, 504),
  });
}

function panelG() {
  return volcano({
    box: { L: 572.3, T: 505, R: 694.3, B: 670.7, w: 52.5, h: 45.7 },
    xMin: -1.953, xMax: 2.54, yMin: -3.46, yMax: 97.7,
    xTicks: [-1, 0, 1, 2], yTicks: [0, 20, 40, 60, 80],
    layers: [dots(gGray, '#bbbbbb', 3.6), dots(gBlue, BLUE, 3.6), dots(gHeart, HEART, 3.6)], zeroColor: '#2222dd',
    names: gGenes, xs: gBeta, ys: gLogP, groups: gGroup,
    elbow: 690, rowStart: 518.7, rowStep: 7.32, labelX: 698.3, titleX: 534.5,
    letter: letter('G', 525.7, 504),
  });
}

function panelH() {
  const box: Box = { L: 52.7, T: 746.7, R: 352.7, B: 912.3, w: 52, h: 46.7 };
  const r = 2.8;
  const sigDatasets = [
    dots(hGray, '#cccccc', r),
    blob(hOliveCore, '#76824a'),
    dots(hOlive, '#76824a', r),
    blob(hGrayCore, '#cccccc'),
    blob(hBlueUpper, BLUE),
    blob(hBlueLower, BLUE),
    dots(hBlue, BLUE, r),
    blob(hGreenUpper, '#00ff00'),
    blob(hGreenLower, '#00ff00'),
    dots(hGreen, '#00ff00', r),
    dots(hRed, '#ff0000', r),
    rule([[-83.3, 0], [94.5, 0]], '#000', 1.2, [5, 3]),
    rule([[0, -2.9], [0, 3.12]], '#000', 1.2, [5, 3]),
  ];
  const index = sigDatasets.length;
  const datasets = [
    ...sigDatasets,
    { type: 'scatter', data: hIsoBeta.map((x, i) => ({ x, y: hIsoCvpc[i] })), backgroundColor: '#00ff00', borderColor: '#111', borderWidth: 1, pointRadius: 3.7, clip: false },
    rule(hTrend, '#000', 2.4, [10, 6]),
  ];
  const notes: Note[] = [
    letter('H', 15, 737.7),
    { text: 'Isoform use', x: 203, y: 738, align: 'center', font: px(17.2) },
    { text: 'r = 0.266', x: 71, y: 765, font: px(14), color: '#222' },
  ];
  const dotY = [748.3, 790.7, 833, 875, 917.3];
  const firstLine = [743.3, 777.3, 819.3, 861.7, 903.7];
  hLegend.forEach((item, k) => {
    notes.push({ x: 526, y: dotY[k], dot: 5, color: item.color });
    item.lines.forEach((line, j) => notes.push({ text: line, x: 544.7, y: firstLine[k] + j * 12.7 + 4, font: px(11.15), color: '#333' }));
  });
  return makeConfig('scatter', box, datasets, {
    x: xAxis(box, { min: -83.3, max: 94.5, ticks: [-50, 0, 50], pad: 9.7, title: 'Beta (Heart failure vs. Heart)', titleSize: 17.3 }),
    y: yAxis(box, { min: -2.9, max: 3.12, ticks: [-2, -1, 0, 1, 2, 3], pad: 7.6, tick: 8, title: 'Beta (iPSC-CVPC vs. Heart)', titleSize: 15.5 }),
  }, {
    box: true,
    notes,
    leaders: {
      names: hIsoforms, xs: hIsoBeta, ys: hIsoCvpc,
      colors: hIsoforms.map(() => '#444'),
      fonts: hIsoforms.map(() => `italic ${px(8.7)}`),
      elbow: 343.3, right: 352.7, rowStart: 751.7, rowStep: 6.53, labelX: 356.7, index,
    },
  });
}

const panels = [panelA, panelB, panelC, panelD, panelE, panelF, panelG, panelH];

function Panel({ build }: { build: () => any }) {
  const ref = useRef<HTMLCanvasElement>(null);
  useEffect(() => {
    const chart = new Chart(ref.current as HTMLCanvasElement, build());
    return () => chart.destroy();
  }, [build]);
  return <canvas ref={ref} width={765} height={959} style={{ position: 'absolute', left: 0, top: 0 }} />;
}

export default function App() {
  Chart.defaults.font.family = FONT;
  return (
    <div style={{ position: 'absolute', left: 0, top: 0, width: 765, height: 959, background: '#fff', overflow: 'hidden' }}>
      {panels.map((build, i) => <Panel key={i} build={build} />)}
    </div>
  );
}
